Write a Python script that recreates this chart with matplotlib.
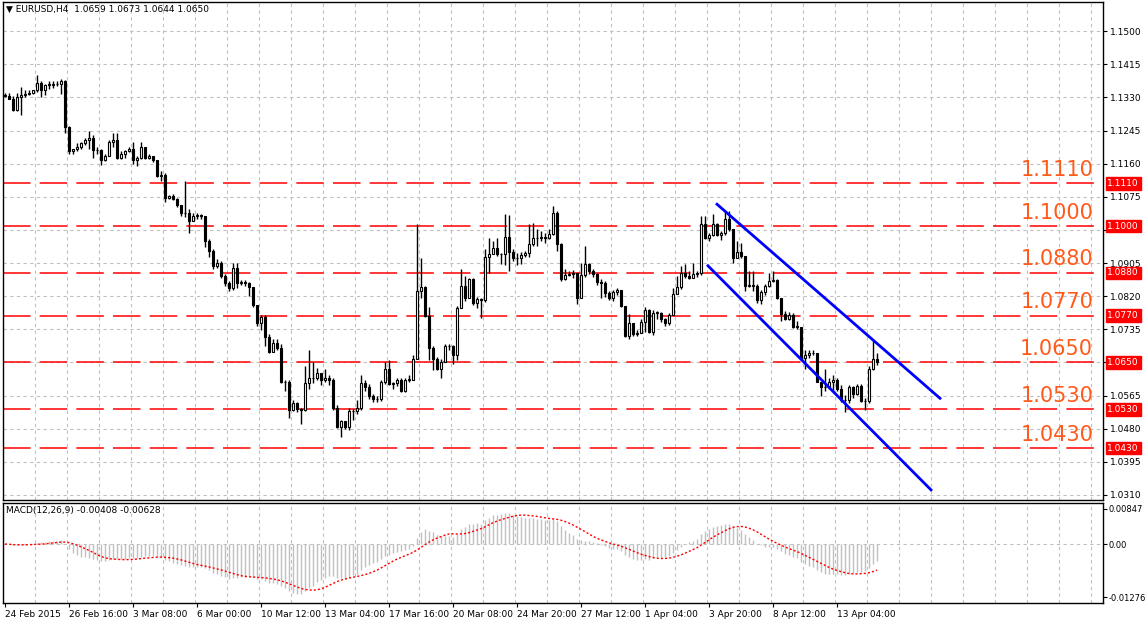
import matplotlib
matplotlib.use("Agg")
import matplotlib.pyplot as plt
import matplotlib.transforms as mtransforms
import numpy as np

first_open = 1.1337
closes = [11335,11327,11299,11332,11337,11340,11342,11348,11368,11348,11363,11363,11365,11365,11373,11253,11192,11197,11204,11212,
11220,11227,11194,11194,11169,11181,11215,11222,11174,11184,11192,11197,11169,11174,11202,11174,11179,11169,11128,11130,
11071,11077,11069,11054,11033,11033,11013,11025,11028,11025,10962,10936,10898,10905,10872,10854,10841,10893,10854,10857,
10854,10844,10798,10750,10767,10716,10678,10701,10688,10599,10599,10527,10545,10530,10527,10596,10611,10609,10622,10604,
10609,10606,10532,10484,10499,10484,10525,10525,10532,10596,10586,10563,10555,10555,10599,10634,10594,10596,10606,10576,
10606,10606,10660,10834,10844,10770,10686,10658,10634,10652,10693,10691,10670,10790,10847,10816,10864,10803,10813,10811,
10921,10928,10944,10928,10928,10972,10933,10918,10918,10926,10931,10954,10969,10969,10972,10969,10979,11033,10954,10864,
10875,10877,10880,10816,10875,10903,10885,10877,10857,10854,10829,10816,10831,10836,10795,10719,10750,10724,10726,10755,
10785,10729,10778,10778,10762,10750,10772,10826,10844,10880,10872,10867,10877,10880,11005,10969,10977,11005,10977,10982,
11018,10992,10918,10933,10923,10847,10849,10847,10811,10831,10847,10859,10862,10816,10775,10762,10772,10742,10742,10662,
10668,10673,10675,10601,10586,10586,10601,10606,10583,10553,10553,10586,10568,10589,10550,10550,10632,10659,10650]
highs = [11342,11342,11335,11342,11358,11350,11348,11350,11388,11371,11365,11371,11373,11371,11378,11376,11258,11199,11212,11217,
11227,11245,11233,11204,11197,11184,11220,11238,11240,11192,11194,11202,11215,11179,11217,11204,11184,11181,11169,11141,
11135,11079,11082,11071,11054,11115,11043,11033,11033,11031,11023,10967,10941,10916,10910,10877,10859,10905,10905,10862,
10862,10857,10834,10795,10772,10772,10724,10709,10709,10698,10606,10604,10553,10548,10532,10642,10683,10650,10637,10624,
10634,10619,10611,10540,10502,10489,10532,10530,10553,10619,10604,10594,10570,10563,10604,10652,10655,10601,10611,10609,
10609,10619,10668,11005,10918,10847,10793,10693,10663,10660,10698,10698,10696,10795,10890,10872,10867,10867,10818,10816,
10941,10969,10962,10969,10931,11031,11028,10941,10931,10933,10936,11005,11008,10992,10987,10982,10992,11051,11038,10956,
10890,10885,10887,10880,10905,10949,10905,10890,10880,10864,10859,10834,10836,10841,10836,10795,10775,10752,10732,10762,
10793,10788,10785,10783,10780,10765,10778,10841,10872,10898,10903,10885,10905,10885,11026,11026,10982,11031,11008,10987,
11038,11038,10992,10962,10956,10923,10885,10885,10852,10836,10852,10880,10885,10864,10816,10783,10780,10778,10757,10742,
10681,10681,10683,10675,10601,10634,10611,10617,10611,10591,10566,10591,10589,10594,10594,10558,10642,10706,10673]
lows = [11330,11325,11296,11294,11286,11332,11337,11340,11345,11332,11337,11353,11355,11360,11340,11238,11184,11184,11192,11197,
11207,11199,11174,11184,11156,11166,11179,11204,11171,11171,11174,11189,11158,11153,11171,11171,11171,11164,11125,11115,
11061,11069,11066,11049,11025,11023,10982,11013,11018,11018,10946,10921,10890,10893,10867,10847,10834,10836,10841,10849,
10847,10821,10793,10744,10734,10693,10675,10678,10681,10596,10578,10507,10525,10522,10491,10525,10583,10596,10604,10591,
10601,10591,10527,10481,10458,10479,10476,10502,10517,10527,10578,10555,10548,10548,10550,10594,10591,10583,10589,10573,
10573,10601,10604,10660,10816,10767,10655,10630,10630,10609,10650,10683,10647,10655,10790,10808,10859,10798,10790,10765,
10806,10880,10928,10923,10903,10900,10885,10910,10900,10903,10921,10921,10949,10949,10962,10956,10967,10977,10936,10859,
10862,10872,10867,10801,10816,10870,10877,10870,10849,10816,10818,10811,10808,10824,10793,10716,10711,10719,10719,10726,
10729,10726,10721,10762,10755,10744,10747,10772,10834,10839,10867,10864,10867,10870,10875,10967,10962,10974,10974,10964,
10977,10987,10905,10918,10918,10834,10844,10834,10803,10801,10824,10844,10857,10813,10757,10760,10760,10739,10737,10660,
10634,10662,10670,10599,10563,10578,10583,10578,10578,10548,10522,10545,10558,10566,10548,10527,10545,10630,10644]

levels = [1.1110, 1.1000, 1.0880, 1.0770, 1.0650, 1.0530, 1.0430]
channel_upper = [(178, 1.1056), (233.75, 1.0558)]
channel_lower = [(175.75, 1.0898), (231.5, 1.0323)]
price_ticks = [1.0310, 1.0395, 1.0480, 1.0565, 1.0650, 1.0735, 1.0820, 1.0905, 1.0990,
               1.1075, 1.1160, 1.1245, 1.1330, 1.1415, 1.1500]
hidden_ticks = [1.0650, 1.0990]
date_labels = ["24 Feb 2015", "26 Feb 16:00", "3 Mar 08:00", "6 Mar 00:00", "10 Mar 12:00",
               "13 Mar 04:00", "17 Mar 16:00", "20 Mar 08:00", "24 Mar 20:00", "27 Mar 12:00",
               "1 Apr 04:00", "3 Apr 20:00", "8 Apr 12:00", "13 Apr 04:00"]

c = np.array(closes) / 1e4
h = np.array(highs) / 1e4
l = np.array(lows) / 1e4
o = np.concatenate([[first_open], c[:-1]])
n = len(c)
idx = np.arange(n)

def ema(x, p):
    a = 2 / (p + 1)
    out = np.empty_like(x)
    out[0] = x[0]
    for k in range(1, len(x)):
        out[k] = a * x[k] + (1 - a) * out[k - 1]
    return out
macd = ema(c, 12) - ema(c, 26)
sig = np.array([macd[max(0, k - 8):k + 1].mean() for k in range(n)])

W, H = 1145, 621
fig = plt.figure(figsize=(W / 100, H / 100), dpi=100)
ax = fig.add_axes([3 / W, (H - 500) / H, 1100 / W, 498 / H])
axm = fig.add_axes([3 / W, (H - 603) / H, 1100 / W, 100 / H], sharex=ax)

XL = (-0.5, 274.5)
for a in (ax, axm):
    a.set_xlim(*XL)
    for s in a.spines.values():
        s.set_color("black"); s.set_linewidth(1)
    gx = np.arange(7.5, 275, 8)
    for g in gx:
        a.axvline(g, color="#c0c0c0", ls=(0, (3, 3)), lw=0.8, zorder=0)

ax.set_ylim(1.0297, 1.1575)
for t in price_ticks:
    ax.axhline(t, color="#c0c0c0", ls=(0, (3, 3)), lw=0.8, zorder=0)
ax.yaxis.tick_right()
ax.set_yticks(price_ticks)
ax.set_yticklabels(["" if any(abs(t - z) < 1e-6 for z in hidden_ticks) else f"{t:.4f}" for t in price_ticks])
ax.tick_params(axis="y", labelsize=6.5, length=3, pad=2)
ax.tick_params(axis="x", bottom=False, labelbottom=False)

bw = 0.62
for i in idx:
    ax.vlines(i, l[i], h[i], color="black", lw=1, zorder=3)
    bot, top = min(o[i], c[i]), max(o[i], c[i])
    hgt = max(top - bot, 0.00004)
    fc = "white" if c[i] >= o[i] else "black"
    ax.add_patch(plt.Rectangle((i - bw / 2, bot), bw, hgt, facecolor=fc, edgecolor="black", lw=0.8, zorder=4))

trans = mtransforms.blended_transform_factory(ax.transAxes, ax.transData)
for lv in levels:
    ax.axhline(lv, color="#ff0000", lw=1.1, ls=(0, (18, 6)), zorder=2)
    ax.text(0.991, lv + 0.0009, f"{lv:.4f}", transform=trans, ha="right", va="bottom",
            color="#ff5a1a", fontsize=15, zorder=6)
    ax.text(1.004, lv, f"{lv:.4f}", transform=trans, ha="left", va="center", color="white",
            fontsize=6.5, zorder=7, clip_on=False,
            bbox=dict(boxstyle="square,pad=0.2", fc="#ff0000", ec="#ff0000"))

for ch in (channel_upper, channel_lower):
    ax.plot([ch[0][0], ch[1][0]], [ch[0][1], ch[1][1]], color="#0000ff", lw=2, zorder=5)

ax.text(0.003, 0.995, "\u25BC EURUSD,H4  1.0659 1.0673 1.0644 1.0650", transform=ax.transAxes,
        ha="left", va="top", fontsize=6.5, zorder=8)

axm.set_ylim(-0.0142, 0.0099)
axm.axhline(0, color="#c0c0c0", ls=(0, (3, 3)), lw=0.8, zorder=0)
axm.vlines(idx, 0, macd, color="#c0c0c0", lw=1, zorder=2)
axm.plot(idx, sig, color="#ff0000", lw=1, ls=(0, (1.5, 1.5)), zorder=3)
axm.yaxis.tick_right()
axm.set_yticks([0.00847, 0.0, -0.01276])
axm.set_yticklabels(["0.00847", "0.00", "-0.01276"])
axm.tick_params(axis="y", labelsize=6, length=3, pad=1)
axm.text(0.003, 0.97, "MACD(12,26,9) -0.00408 -0.00628", transform=axm.transAxes,
         ha="left", va="top", fontsize=6.5)

xt = [16 * k for k in range(len(date_labels))]
axm.set_xticks(xt)
axm.set_xticklabels(date_labels)
axm.tick_params(axis="x", labelsize=6.5, length=3, pad=2)
for lab in axm.get_xticklabels():
    lab.set_ha("left")

fig.savefig("out.png", dpi=100, facecolor="white")
